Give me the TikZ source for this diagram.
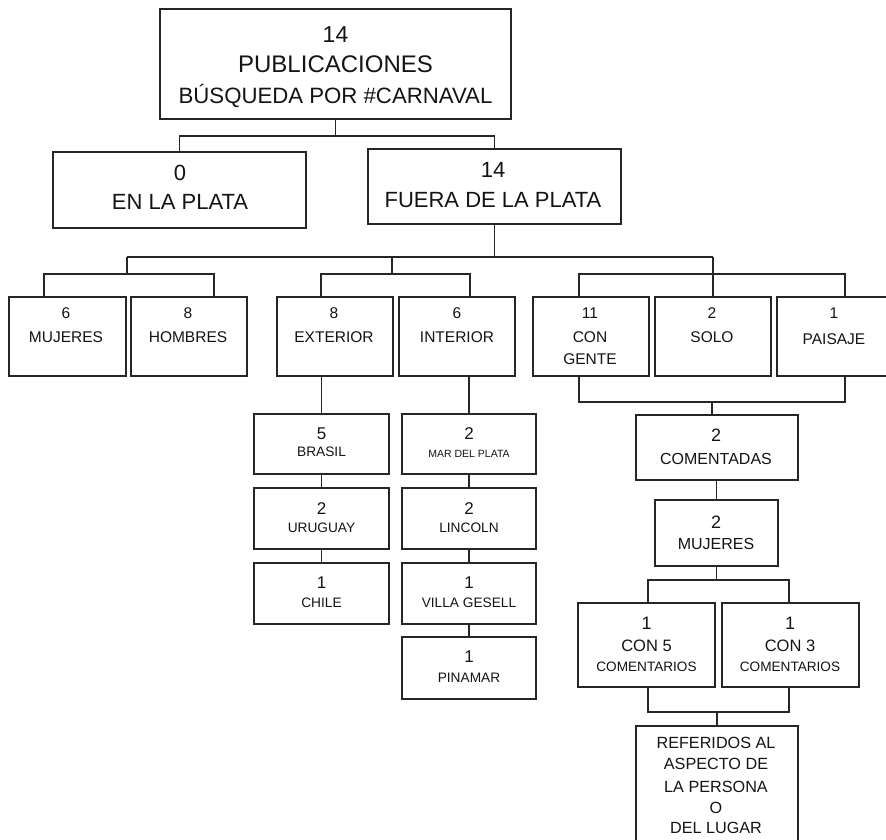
\documentclass[tikz,border=0pt]{standalone}
\usepackage{fontspec}
\setmainfont{Liberation Sans}
\usetikzlibrary{fit}
\definecolor{linec}{HTML}{262626}
\definecolor{txtc}{HTML}{141414}
\tikzset{
  bx/.style={draw=linec, line width=1.6pt, inner sep=0pt, fill=white},
  bigbx/.style={bx, line width=1.9pt},
  wire/.style={draw=linec, line width=1.6pt},
  txt/.style={inner sep=0pt, anchor=base, text=txtc},
}
\newcommand\tline[5]{\node[txt, font=\fontsize{#4}{#4}\selectfont] (#1) at ({#2},{#3+0.36*#4}) {#5};}
\begin{document}
\begin{tikzpicture}[x=1pt,y=-1pt]
\fill[white] (0,0) rectangle (886,840);
\useasboundingbox (0,0) rectangle (886,840);
% boxes
\node[bigbx, fit={(160,9) (511,119)}] (top) {};
\node[bigbx, fit={(53,152) (306,228)}] (enla) {};
\node[bigbx, fit={(368,149) (621,224)}] (fu) {};
\node[bx, fit={(9,297) (126,376)}] (mu) {};
\node[bx, fit={(131,297) (247,376)}] (ho) {};
\node[bx, fit={(277,297) (393,376)}] (ex) {};
\node[bx, fit={(399,297) (515,376)}] (intr) {};
\node[bx, fit={(533,297) (649,376)}] (cg) {};
\node[bx, fit={(655,297) (771,376)}] (so) {};
\node[bx, fit={(777,297) (892,376)}] (pa) {};
\node[bx, fit={(254,414) (389,474)}] (br) {};
\node[bx, fit={(254,488) (389,549)}] (ur) {};
\node[bx, fit={(254,563) (389,624)}] (ch) {};
\node[bx, fit={(402,414) (536,474)}] (md) {};
\node[bx, fit={(402,488) (536,549)}] (li) {};
\node[bx, fit={(402,563) (536,624)}] (vg) {};
\node[bx, fit={(402,637) (536,699)}] (pi) {};
\node[bx, fit={(636,415) (798,480)}] (co) {};
\node[bx, fit={(655,500) (778,566)}] (mtwo) {};
\node[bx, fit={(578,603) (715,687)}] (cfive) {};
\node[bx, fit={(722,603) (859,687)}] (cthree) {};
\node[bx, fit={(636,726) (798,870)}] (rf) {};
% junction coordinates
\coordinate (b1) at (336,136);
\coordinate (b2) at (0,257);
\coordinate (ga) at (127,274);
\coordinate (gb) at (392,274);
\coordinate (gc) at (713,274);
\coordinate (gd) at (712,402);
\coordinate (ge) at (716.5,580);
\coordinate (gf) at (717,712);
% connectors
\draw[wire] (top.south) -- (top.south |- b1);
\draw[wire] (enla.north) |- (b1) -| (fu.north);
\draw[wire] (fu.south) -- (fu.south |- b2);
\draw[wire] (ga |- b2) -- (so.north |- b2);
\draw[wire] (ga) -- (ga |- b2);
\draw[wire] (gb) -- (gb |- b2);
\draw[wire] (so.north |- b2) -- (so.north);
\draw[wire] ([xshift=-23.5pt]mu.north) |- (ga) -| ([xshift=25pt]ho.north);
\draw[wire] ([xshift=-14pt]ex.north) |- (gb) -| ([xshift=13pt]intr.north);
\draw[wire] ([xshift=-12pt]cg.north) |- (gc) -| ([xshift=10.5pt]pa.north);
\draw[wire] ([xshift=-12pt]cg.south) |- (gd) -| ([xshift=10.5pt]pa.south);
\draw[wire] (gd) -- (gd |- co.north);
\draw[wire] (br.north |- ex.south) -- (br.north);
\draw[wire] (br.south) -- (ur.north);
\draw[wire] (ur.south) -- (ch.north);
\draw[wire] (md.north |- intr.south) -- (md.north);
\draw[wire] (md.south) -- (li.north);
\draw[wire] (li.south) -- (vg.north);
\draw[wire] (vg.south) -- (pi.north);
\draw[wire] (mtwo.north |- co.south) -- (mtwo.north);
\draw[wire] (mtwo.south) -- (ge);
\draw[wire] ([xshift=1.5pt]cfive.north) |- (ge) -| ([xshift=-1.5pt]cthree.north);
\draw[wire] ([xshift=1.5pt]cfive.south) |- (gf) -| ([xshift=-1.5pt]cthree.south);
\draw[wire] (gf) -- (gf |- rf.north);
% texts
\tline{ta}{335.5}{34}{23}{14}
\tline{tb}{335.5}{64}{24}{PUBLICACIONES}
\tline{tc}{335.5}{96}{22.2}{BÚSQUEDA POR \#CARNAVAL}
\tline{ea}{180}{173}{22}{0}
\tline{eb}{180}{202}{22}{EN LA PLATA}
\tline{fa}{493}{170}{22}{14}
\tline{fb}{493}{200}{22}{FUERA DE LA PLATA}
\tline{mua}{66}{313}{15.5}{6}
\tline{mub}{66}{337}{15.5}{MUJERES}
\tline{hoa}{188}{313}{15.5}{8}
\tline{hob}{188}{337}{15.5}{HOMBRES}
\tline{exa}{334}{313}{15.5}{8}
\tline{exb}{334}{337}{15.5}{EXTERIOR}
\tline{ina}{457}{313}{15.5}{6}
\tline{inb}{457}{337}{15.5}{INTERIOR}
\tline{cga}{590}{313}{15.5}{11}
\tline{cgb}{590}{337}{15.5}{CON}
\tline{cgc}{590}{359}{15.5}{GENTE}
\tline{soa}{712}{313}{15.5}{2}
\tline{sob}{712}{337}{15.5}{SOLO}
\tline{paa}{834}{313}{15.5}{1}
\tline{pab}{834}{339}{15.5}{PAISAJE}
\tline{bra}{321.5}{433}{17}{5}
\tline{brb}{321.5}{452}{13.7}{BRASIL}
\tline{ura}{321.5}{508}{17}{2}
\tline{urb}{321.5}{528}{13.7}{URUGUAY}
\tline{cha}{321.5}{582}{17}{1}
\tline{chb}{321.5}{603}{13.7}{CHILE}
\tline{mda}{469}{433}{17}{2}
\tline{mdb}{469}{454}{10.5}{MAR DEL PLATA}
\tline{lia}{469}{508}{17}{2}
\tline{lib}{469}{528}{13.7}{LINCOLN}
\tline{vga}{469}{582}{17}{1}
\tline{vgb}{469}{603}{13.7}{VILLA GESELL}
\tline{pia}{469}{656}{17}{1}
\tline{pib}{469}{678}{13.7}{PINAMAR}
\tline{coa}{716}{435}{18}{2}
\tline{cob}{716}{459}{16}{COMENTADAS}
\tline{mta}{716}{522}{18}{2}
\tline{mtb}{716}{544}{16}{MUJERES}
\tline{cfa}{646.5}{623}{18}{1}
\tline{cfb}{646.5}{646}{16.5}{CON 5}
\tline{cfc}{646.5}{667}{13.6}{COMENTARIOS}
\tline{cta}{790}{623}{18}{1}
\tline{ctb}{790}{646}{16.5}{CON 3}
\tline{ctc}{790}{667}{13.6}{COMENTARIOS}
\tline{rfa}{716}{743}{16.2}{REFERIDOS AL}
\tline{rfb}{716}{764}{16.2}{ASPECTO DE}
\tline{rfc}{716}{787}{16.2}{LA PERSONA}
\tline{rfd}{716}{808}{16.2}{O}
\tline{rfe}{716}{828}{16.2}{DEL LUGAR}
\end{tikzpicture}
\end{document}
